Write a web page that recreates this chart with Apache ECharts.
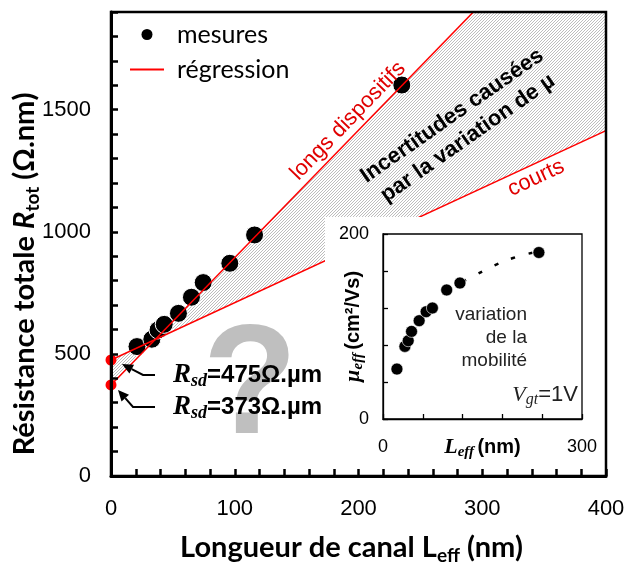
<!DOCTYPE html>
<html><head><meta charset="utf-8">
<script src="https://cdn.jsdelivr.net/npm/echarts@6/dist/echarts.min.js"></script>
<style>html,body{margin:0;padding:0;background:#fff}#c{width:627px;height:565px}</style>
</head><body><div id="c"></div>
<script>
// ---- data ----
const lengthsNm   = [21, 33, 38, 43, 54.5, 65, 74.5, 96, 116, 235];           // L_eff (nm)
const resistances = [530, 560, 598, 621, 666, 732, 792, 871, 987, 1601];      // R_tot (Ω.nm)
const regX        = [0, 400];
const longsFit    = [373, 2459];   // régression "longs dispositifs"
const courtsFit   = [475, 1414];   // régression "courts"
const rsdValues   = [475, 373];    // R_sd intercepts
const mobilities  = [54, 78.5, 84.6, 94.7, 106.3, 116, 120, 139.5, 147, 180]; // µ_eff (cm²/Vs)
const mobTrendX   = [96, 116, 143, 168, 196, 233];
const mobTrendY   = [139, 147, 157, 166, 174, 181];
const mainXLabels = [0, 100, 200, 300, 400];
const mainYLabels = [0, 500, 1000, 1500];
const insetXLabels = [0, 300];
const insetYLabels = [0, 200];

const SANS = '"Liberation Sans", Arial, sans-serif';
const TITLE = 'Lato, "Open Sans", sans-serif';
const SERIF = '"Liberation Serif", "Times New Roman", serif';
const RED = '#ff0000';
const RED_TXT = '#e00000';

const hatch = document.createElement('canvas');
hatch.width = 3; hatch.height = 3;
(function(){const g = hatch.getContext('2d'); g.fillStyle = '#fff'; g.fillRect(0,0,3,3);
  g.fillStyle = '#bdbdbd'; for (let i = 0; i < 3; i++) g.fillRect(2 - i, i, 1, 1);})();

function clipPoly(pts, x0, y0, w, h) {
  const x1 = x0 + w, y1 = y0 + h;
  const lerpX = (a, b, X) => { const t = (X - a[0]) / (b[0] - a[0]); return [X, a[1] + t * (b[1] - a[1])]; };
  const lerpY = (a, b, Y) => { const t = (Y - a[1]) / (b[1] - a[1]); return [a[0] + t * (b[0] - a[0]), Y]; };
  const edges = [
    [p => p[0] >= x0, (a, b) => lerpX(a, b, x0)],
    [p => p[0] <= x1, (a, b) => lerpX(a, b, x1)],
    [p => p[1] >= y0, (a, b) => lerpY(a, b, y0)],
    [p => p[1] <= y1, (a, b) => lerpY(a, b, y1)]
  ];
  let out = pts;
  for (const [inside, inter] of edges) {
    const inp = out; out = [];
    for (let i = 0; i < inp.length; i++) {
      const cur = inp[i], prev = inp[(i + inp.length - 1) % inp.length];
      if (inside(cur)) { if (!inside(prev)) out.push(inter(prev, cur)); out.push(cur); }
      else if (inside(prev)) out.push(inter(prev, cur));
    }
  }
  return out;
}

const chart = echarts.init(document.getElementById('c'), null, {renderer: 'canvas'});

const mainAxisCommon = {
  axisLine: {show: true, onZero: false, lineStyle: {color: '#000', width: 3}},
  axisTick: {show: true, inside: true, length: 7, lineStyle: {color: '#000', width: 2.5}},
  splitLine: {show: false},
  nameMoveOverlap: false,
  z: 10
};
const insetAxisCommon = {
  axisLine: {show: true, onZero: false, lineStyle: {color: '#000', width: 1.3}},
  axisTick: {show: true, inside: true, length: 5, lineStyle: {color: '#000', width: 1.3}},
  splitLine: {show: false},
  nameMoveOverlap: false,
  z: 10
};

const option = {
  animation: false,
  backgroundColor: '#fff',
  grid: [
    {left: 111, top: 12, width: 495, height: 464, containLabel: false, outerBoundsMode: 'none',
     show: true, borderColor: '#000', borderWidth: 2.5, backgroundColor: 'transparent', z: 10},
    {left: 383, top: 234, width: 199, height: 185, containLabel: false, outerBoundsMode: 'none',
     show: true, borderColor: '#000', borderWidth: 1.3, backgroundColor: 'transparent', z: 10}
  ],
  legend: {
    data: [{name: 'mesures', itemStyle: {borderWidth: 0, opacity: 1}},
           {name: 'régression', itemStyle: {opacity: 0}}],
    orient: 'vertical', left: 124, top: 17,
    itemWidth: 34, itemHeight: 11, itemGap: 10, selectedMode: false,
    textStyle: {fontFamily: TITLE, fontSize: 25, color: '#000', padding: [0, 0, 0, 8]}
  },
  xAxis: [
    Object.assign({type: 'value', gridIndex: 0, min: 0, max: 400, interval: 20,
      axisLabel: {formatter: v => mainXLabels.includes(v) ? String(v) : '', fontFamily: SANS, fontSize: 22, color: '#000', margin: 22},
      name: 'Longueur de canal L{s|eff} (nm)', nameLocation: 'middle', nameGap: 55,
      nameTextStyle: {fontFamily: TITLE, fontWeight: 'bold', fontSize: 29, color: '#000', lineHeight: 34, padding: [0, 14, 0, 0],
        rich: {s: {fontFamily: TITLE, fontWeight: 'bold', fontSize: 19, lineHeight: 19, verticalAlign: 'bottom', color: '#000'}}}
    }, mainAxisCommon),
    Object.assign({type: 'value', gridIndex: 1, min: 0, max: 300, interval: 60,
      axisLabel: {formatter: v => insetXLabels.includes(v) ? String(v) : '', fontFamily: SANS, fontSize: 18, color: '#000', margin: 19},
      name: '{l|L}{s|eff} {b|(nm)}', nameLocation: 'middle', nameGap: 15,
      nameTextStyle: {lineHeight: 26, rich: {
        l: {fontFamily: SERIF, fontStyle: 'italic', fontWeight: 'bold', fontSize: 22, color: '#000', lineHeight: 26},
        s: {fontFamily: SERIF, fontStyle: 'italic', fontWeight: 'bold', fontSize: 15, color: '#000', lineHeight: 15, verticalAlign: 'bottom'},
        b: {fontFamily: SANS, fontWeight: 'bold', fontSize: 20, color: '#000', lineHeight: 26}}}
    }, insetAxisCommon)
  ],
  yAxis: [
    Object.assign({type: 'value', gridIndex: 0, min: 0, max: 1900, interval: 100,
      axisLabel: {formatter: v => mainYLabels.includes(v) ? String(v) : '', fontFamily: SANS, fontSize: 22, color: '#000', margin: 20},
      name: 'Résistance totale {i|R}{s|tot} (Ω.nm)', nameLocation: 'middle', nameGap: 69,
      nameTextStyle: {fontFamily: TITLE, fontWeight: 'bold', fontSize: 29, color: '#000', lineHeight: 34, padding: [0, 60, 0, 0],
        rich: {i: {fontFamily: TITLE, fontStyle: 'italic', fontWeight: 'bold', fontSize: 29, color: '#000', lineHeight: 34},
               s: {fontFamily: TITLE, fontWeight: 'bold', fontSize: 19, lineHeight: 19, verticalAlign: 'bottom', color: '#000'}}}
    }, mainAxisCommon),
    Object.assign({type: 'value', gridIndex: 1, min: 0, max: 200, interval: 40,
      axisLabel: {formatter: v => insetYLabels.includes(v) ? String(v) : '', fontFamily: SANS, fontSize: 18, color: '#000', margin: 14},
      name: '{m|µ}{s|eff} {b|(cm²/Vs)}', nameLocation: 'middle', nameGap: 17,
      nameTextStyle: {lineHeight: 26, rich: {
        m: {fontFamily: SERIF, fontStyle: 'italic', fontWeight: 'bold', fontSize: 22, color: '#000', lineHeight: 26},
        s: {fontFamily: SERIF, fontStyle: 'italic', fontWeight: 'bold', fontSize: 15, color: '#000', lineHeight: 15, verticalAlign: 'bottom'},
        b: {fontFamily: SANS, fontWeight: 'bold', fontSize: 20, color: '#000', lineHeight: 26}}}
    }, insetAxisCommon)
  ],
  series: [
    {name: 'incertitude', type: 'custom', xAxisIndex: 0, yAxisIndex: 0, silent: true, z: 1,
     data: [[regX[0], courtsFit[0]]],
     renderItem: function (params, api) {
       const poly = [
         api.coord([regX[0], courtsFit[0]]), api.coord([regX[1], courtsFit[1]]),
         api.coord([regX[1], longsFit[1]]), api.coord([regX[0], longsFit[0]])
       ];
       const cs = params.coordSys;
       return {type: 'polygon', shape: {points: clipPoly(poly, cs.x, cs.y, cs.width, cs.height)},
               style: {fill: {image: hatch, repeat: 'repeat'}, stroke: null}};
     }},
    {name: 'mesures', type: 'scatter', xAxisIndex: 0, yAxisIndex: 0,
     data: lengthsNm.map((x, i) => [x, resistances[i]]), symbol: 'circle', symbolSize: 18,
     itemStyle: {color: '#000', borderColor: '#fff', borderWidth: 1, opacity: 1}, z: 2},
    {name: 'régression', type: 'line', xAxisIndex: 0, yAxisIndex: 0,
     data: regX.map((x, i) => [x, courtsFit[i]]), symbol: 'none', lineStyle: {color: RED, width: 1.5}, itemStyle: {color: RED}, z: 3},
    {name: 'régression', type: 'line', xAxisIndex: 0, yAxisIndex: 0,
     data: regX.map((x, i) => [x, longsFit[i]]), symbol: 'none', lineStyle: {color: RED, width: 1.5}, itemStyle: {color: RED}, z: 3},
    {name: 'Rsd', type: 'scatter', xAxisIndex: 0, yAxisIndex: 0, data: rsdValues.map(v => [0, v]),
     symbolSize: 11, itemStyle: {color: RED, opacity: 1}, z: 4},
    {name: 'tendance', type: 'line', xAxisIndex: 1, yAxisIndex: 1, data: mobTrendX.map((x, i) => [x, mobTrendY[i]]),
     symbol: 'none', smooth: true, lineStyle: {color: '#000', width: 2.5, type: [4, 14]}, z: 11},
    {name: 'mobilité', type: 'scatter', xAxisIndex: 1, yAxisIndex: 1, data: lengthsNm.map((x, i) => [x, mobilities[i]]),
     symbolSize: 12, itemStyle: {color: '#000', borderColor: '#fff', borderWidth: 0.6, opacity: 1}, z: 12}
  ]
};
chart.setOption(option);

function txt(o) {
  const s = Object.assign({}, o.style);
  if (s.align) s.textAlign = s.align;
  if (s.verticalAlign) s.textVerticalAlign = s.verticalAlign;
  return Object.assign({type: 'text', silent: true}, o, {style: s});
}
function arrow(tip, knee, end) {
  const dx = tip[0] - knee[0], dy = tip[1] - knee[1], L = Math.hypot(dx, dy);
  const ux = dx / L, uy = dy / L, hl = 11, hw = 5;
  const base = [tip[0] - ux * hl, tip[1] - uy * hl];
  return [
    {type: 'polyline', shape: {points: [end, knee, base]}, style: {stroke: '#000', lineWidth: 2, fill: null}, z: 6, silent: true},
    {type: 'polygon', shape: {points: [tip, [base[0] - uy * hw, base[1] + ux * hw], [base[0] + uy * hw, base[1] - ux * hw]]},
     style: {fill: '#000'}, z: 6, silent: true}
  ];
}

const d1 = chart.convertToPixel({xAxisIndex: 0, yAxisIndex: 0}, [0, rsdValues[0]]);
const d2 = chart.convertToPixel({xAxisIndex: 0, yAxisIndex: 0}, [0, rsdValues[1]]);
const deg = Math.PI / 180;

const rsdRich = {
  r: {fontFamily: SERIF, fontStyle: 'italic', fontWeight: 'bold', fontSize: 27, fill: '#000', lineHeight: 30},
  s: {fontFamily: SERIF, fontStyle: 'italic', fontWeight: 'bold', fontSize: 18, fill: '#000', lineHeight: 17, verticalAlign: 'bottom'},
  t: {fontFamily: SANS, fontWeight: 'bold', fontSize: 24, fill: '#000', lineHeight: 30}
};

const graphics = [
  {type: 'rect', shape: {x: 325, y: 217, width: 280, height: 259}, style: {fill: '#fff'}, z: 5, silent: true},
  txt({x: 250, y: 390, z: 1, style: {text: '?', fontFamily: SANS, fontWeight: 'bold', fontSize: 155, fill: '#bfbfbf', align: 'center', verticalAlign: 'middle'}}),
  txt({x: 173, y: d1[1] + 15, z: 6, style: {text: '{r|R}{s|sd}{t|=' + rsdValues[0] + 'Ω.µm}', rich: rsdRich, align: 'left', verticalAlign: 'middle'}}),
  txt({x: 173, y: d2[1] + 22, z: 6, style: {text: '{r|R}{s|sd}{t|=' + rsdValues[1] + 'Ω.µm}', rich: rsdRich, align: 'left', verticalAlign: 'middle'}}),
  ...arrow([d1[0] + 11, d1[1] + 4], [d1[0] + 32, d1[1] + 15], [d1[0] + 44, d1[1] + 15]),
  ...arrow([d2[0] + 7, d2[1] + 5], [d2[0] + 22, d2[1] + 22], [d2[0] + 44, d2[1] + 22]),
  txt({x: 348, y: 121, rotation: 46 * deg, z: 6, style: {text: 'longs dispositifs', fontFamily: SANS, fontSize: 22, fill: RED_TXT, align: 'center', verticalAlign: 'middle'}}),
  txt({x: 536, y: 178, rotation: 25 * deg, z: 6, style: {text: 'courts', fontFamily: SANS, fontSize: 22, fill: RED_TXT, align: 'center', verticalAlign: 'middle'}}),
  txt({x: 460, y: 127, rotation: 35 * deg, z: 6, style: {text: 'Incertitudes causées\npar la variation de µ', fontFamily: SANS, fontWeight: 'bold', fontSize: 22, lineHeight: 27, fill: '#000', align: 'center', verticalAlign: 'middle'}}),
  txt({x: 527, y: 338, z: 13, style: {text: 'variation\nde la\nmobilité', fontFamily: SANS, fontSize: 19, lineHeight: 23, fill: '#222', align: 'right', verticalAlign: 'middle'}}),
  txt({x: 578, y: 395, z: 13, style: {text: '{v|V}{g|gt}{e|=1V}', align: 'right', verticalAlign: 'middle', rich: {
    v: {fontFamily: SERIF, fontStyle: 'italic', fontSize: 22, fill: '#222', lineHeight: 26},
    g: {fontFamily: SERIF, fontStyle: 'italic', fontSize: 16, fill: '#222', lineHeight: 16, verticalAlign: 'bottom'},
    e: {fontFamily: SANS, fontSize: 22, fill: '#222', lineHeight: 26}}}})
];
chart.setOption({graphic: graphics});
</script></body></html>
